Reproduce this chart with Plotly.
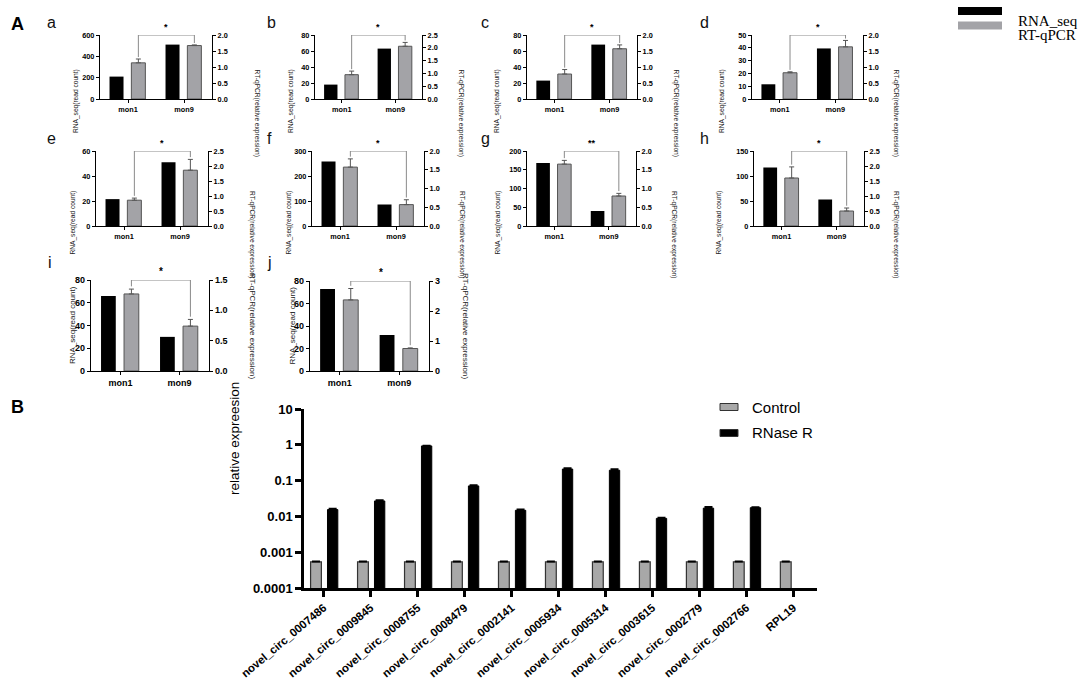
import plotly.graph_objects as go

W, H = 1084, 679
SANS = "Liberation Sans, Arial, sans-serif"
SERIF = "Liberation Serif, Times New Roman, serif"

# ---- A: RNA_seq (left axis) vs RT-qPCR (right axis) ----
months = ["mon1", "mon9"]
panel_letters = ["a", "b", "c", "d", "e", "f", "g", "h", "i", "j"]
rnaseq_mon1 = [210, 18, 23, 11.5, 21.5, 258, 168, 117, 66, 73]
rnaseq_mon9 = [510, 63, 68, 39.5, 51, 86, 40, 53, 30, 32]
qpcr_mon1 = [1.13, 0.95, 0.78, 0.82, 0.86, 1.57, 1.65, 1.60, 1.27, 2.37]
qpcr_mon9 = [1.67, 2.06, 1.57, 1.63, 1.86, 0.57, 0.80, 0.50, 0.74, 0.75]
qpcr_err_mon1 = [0.12, 0.14, 0.14, 0.03, 0.07, 0.22, 0.10, 0.37, 0.08, 0.38]
qpcr_err_mon9 = [0.02, 0.15, 0.12, 0.20, 0.36, 0.13, 0.07, 0.10, 0.11, 0.02]
rnaseq_max = [600, 80, 80, 50, 60, 300, 200, 150, 80, 80]
rnaseq_step = [200, 20, 20, 10, 20, 100, 50, 50, 20, 20]
qpcr_max = [2.0, 2.5, 2.0, 2.0, 2.5, 2.0, 2.0, 2.5, 1.5, 3]
qpcr_step = [0.5, 0.5, 0.5, 0.5, 0.5, 0.5, 0.5, 0.5, 0.5, 1]
signif = ["*", "*", "*", "*", "*", "*", "**", "*", "*", "*"]

# ---- B: RNase R resistance ----
circ_names = ["novel_circ_0007486", "novel_circ_0009845", "novel_circ_0008755",
              "novel_circ_0008479", "novel_circ_0002141", "novel_circ_0005934",
              "novel_circ_0005314", "novel_circ_0003615", "novel_circ_0002779",
              "novel_circ_0002766", "RPL19"]
control_expr = [0.00054, 0.00054, 0.00054, 0.00054, 0.00054, 0.00054,
                0.00054, 0.00054, 0.00054, 0.00054, 0.00054]
control_err = [0.00002, 0.00002, 0.00002, 0.00002, 0.00002, 0.00002,
               0.00002, 0.00002, 0.00002, 0.00002, 0.00002]
rnase_expr = [0.0155, 0.027, 0.93, 0.071, 0.0148, 0.21, 0.195, 0.0088, 0.017, 0.0175, None]
rnase_err = [0.001, 0.0015, 0.03, 0.004, 0.001, 0.015, 0.015, 0.0005, 0.0015, 0.0008, None]

# panel plot areas in pixels: x0, x1, y0(top), y1(bottom)
rects = [(100, 212, 35, 99), (315, 422, 35, 99), (527, 637, 35, 99), (752, 863, 35, 99),
         (96, 208, 151, 226), (312, 424, 151, 226), (527, 636, 151, 226), (754, 864, 151, 226),
         (91, 209, 280, 371), (310, 429, 281, 371)]
letter_pos = [(45, 12), (265, 12), (485, 12), (704, 12), (45, 128), (265, 128),
              (485, 128), (704, 128), (46, 262), (265, 262)]


def key(axis, n):
    return axis if n == 1 else f"{axis}{n}"


def ref(axis, n):
    return axis if n == 1 else f"{axis}{n}"


fig = go.Figure()
layout = dict(width=W, height=H, margin=dict(l=0, r=0, t=0, b=0, autoexpand=False),
              paper_bgcolor="white", plot_bgcolor="white", showlegend=False,
              barmode="overlay", font=dict(family=SANS, color="black"))
annotations = []
shapes = []

pos = list(range(len(months)))
blk_off, gry_off, bw = -0.33, 0.06, 0.25

for k in range(len(panel_letters)):
    n = k + 1
    xn, yl, yr = n, 2 * n - 1, 2 * n
    x0, x1, y0, y1 = rects[k]
    big = k >= 8
    fs = 9 if big else 7.3
    tfs = 8 if big else 6.6
    lw = 1.3

    fig.add_trace(go.Bar(x=pos, y=[rnaseq_mon1[k], rnaseq_mon9[k]], offset=blk_off, width=bw,
                         marker=dict(color="black", line=dict(width=0)),
                         xaxis=ref("x", xn), yaxis=ref("y", yl)))
    fig.add_trace(go.Bar(x=pos, y=[qpcr_mon1[k], qpcr_mon9[k]], offset=gry_off, width=bw,
                         marker=dict(color="#a3a3a7", line=dict(color="#555555", width=1)),
                         error_y=dict(type="data", symmetric=False,
                                      array=[qpcr_err_mon1[k], qpcr_err_mon9[k]],
                                      arrayminus=[0, 0], color="#555555", thickness=1, width=2.5),
                         xaxis=ref("x", xn), yaxis=ref("y", yr)))

    # significance bracket
    top = qpcr_max[k]
    pad = 0.03 * top
    p1 = pos[0] + gry_off + bw / 2
    p9 = pos[1] + gry_off + bw / 2
    fig.add_trace(go.Scatter(x=[p1, p1, p9, p9],
                             y=[qpcr_mon1[k] + qpcr_err_mon1[k] + pad, top, top,
                                qpcr_mon9[k] + qpcr_err_mon9[k] + pad],
                             mode="lines", line=dict(color="#8a8a8a", width=1),
                             cliponaxis=False, hoverinfo="skip",
                             xaxis=ref("x", xn), yaxis=ref("y", yr)))
    annotations.append(dict(x=(p1 + p9) / 2, y=top, xref=ref("x", xn), yref=ref("y", yr),
                            text=signif[k], showarrow=False, yanchor="bottom", yshift=1,
                            font=dict(size=10 if big else 9, weight="bold")))

    axis_common = dict(showline=True, linecolor="black", linewidth=lw, ticks="outside",
                       ticklen=3, tickwidth=lw, tickcolor="black", showgrid=False,
                       zeroline=False, automargin=False,
                       tickfont=dict(size=fs, weight="bold"))
    layout[key("xaxis", xn)] = dict(domain=[x0 / W, x1 / W], anchor=ref("y", yl),
                                    range=[-0.5, 1.5], tickvals=pos, ticktext=months,
                                    **axis_common)
    layout[key("yaxis", yl)] = dict(domain=[1 - y1 / H, 1 - y0 / H], anchor=ref("x", xn),
                                    range=[0, rnaseq_max[k]], tick0=0, dtick=rnaseq_step[k],
                                    **axis_common)
    layout[key("yaxis", yr)] = dict(overlaying=ref("y", yl), anchor=ref("x", xn), side="right",
                                    range=[0, qpcr_max[k]], tick0=0, dtick=qpcr_step[k],
                                    tickformat="d" if qpcr_step[k] >= 1 else ".1f",
                                    **axis_common)

    yc = 1 - (y0 + y1) / 2 / H
    annotations.append(dict(x=(x0 - (25 if big else 30)) / W, y=yc, xref="paper", yref="paper",
                            text="RNA_seq(read count)", textangle=-90, showarrow=False,
                            font=dict(size=tfs, color="#222")))
    annotations.append(dict(x=(x1 + (37 if big else 38)) / W, y=yc, xref="paper", yref="paper",
                            text="RT-qPCR(relative expression)", textangle=90, showarrow=False,
                            font=dict(size=tfs, color="#222")))
    lx, ly = letter_pos[k]
    annotations.append(dict(x=lx / W, y=1 - ly / H, xref="paper", yref="paper",
                            text=panel_letters[k], showarrow=False,
                            font=dict(size=16, color="#111")))

# ---- panel B ----
nb = len(panel_letters) + 1
xb, yb = nb, 2 * nb - 1
bpos = list(range(len(circ_names)))
fig.add_trace(go.Bar(x=bpos, y=control_expr, offset=-0.28, width=0.23,
                     marker=dict(color="#a8a8a8", line=dict(color="#333333", width=1.2)),
                     error_y=dict(type="data", symmetric=False, array=control_err,
                                  arrayminus=[0] * len(control_err), color="black",
                                  thickness=1.5, width=4),
                     xaxis=ref("x", xb), yaxis=ref("y", yb)))
fig.add_trace(go.Bar(x=bpos, y=rnase_expr, offset=0.08, width=0.22,
                     marker=dict(color="black", line=dict(color="black", width=1)),
                     error_y=dict(type="data", symmetric=False, array=rnase_err,
                                  arrayminus=[0] * len(rnase_err), color="black",
                                  thickness=1.5, width=4),
                     xaxis=ref("x", xb), yaxis=ref("y", yb)))

b_common = dict(showline=True, linecolor="black", linewidth=2.5, ticks="outside",
                ticklen=6, tickwidth=2.5, tickcolor="black", showgrid=False, zeroline=False,
                automargin=False)
layout[key("xaxis", xb)] = dict(domain=[304 / W, 817 / W], anchor=ref("y", yb),
                                range=[-0.42, 10.5], tickvals=bpos, ticktext=circ_names,
                                tickangle=-40, tickfont=dict(size=11.4, weight="bold"),
                                **b_common)
layout[key("yaxis", yb)] = dict(domain=[1 - 588 / H, 1 - 409 / H], anchor=ref("x", xb),
                                type="log", range=[-4, 1],
                                tickvals=[0.0001, 0.001, 0.01, 0.1, 1, 10],
                                ticktext=["0.0001", "0.001", "0.01", "0.1", "1", "10"],
                                tickfont=dict(size=13, weight="bold"), **b_common)
annotations.append(dict(x=225 / W, y=1 - 497 / H, xref="paper", yref="paper",
                        text="relative expreesion", textangle=-90, showarrow=False,
                        font=dict(size=13.5)))

# legend B
for txt, col, yy in [("Control", "#a8a8a8", 407), ("RNase R", "black", 433)]:
    shapes.append(dict(type="rect", xref="paper", yref="paper",
                       x0=720 / W, x1=738 / W, y0=1 - (yy + 3.5) / H, y1=1 - (yy - 3.5) / H,
                       fillcolor=col, line=dict(color="#333333", width=1)))
    annotations.append(dict(x=750 / W, y=1 - yy / H, xref="paper", yref="paper", text=txt,
                            showarrow=False, xanchor="left", font=dict(size=15)))

# legend A
for txt, col, yy in [("RNA_seq", "black", 11), ("RT-qPCR", "#a3a3a7", 25.5)]:
    shapes.append(dict(type="rect", xref="paper", yref="paper",
                       x0=958 / W, x1=1002 / W, y0=1 - (yy + 4) / H, y1=1 - (yy - 4) / H,
                       fillcolor=col, line=dict(width=0)))
    annotations.append(dict(x=1016 / W, y=1 - yy / H, xref="paper", yref="paper", text=txt,
                            showarrow=False, xanchor="left",
                            font=dict(size=15, family=SERIF)))

# big panel labels
for txt, yy in [("A", 12), ("B", 407)]:
    annotations.append(dict(x=9 / W, y=1 - yy / H, xref="paper", yref="paper", text=txt,
                            showarrow=False, font=dict(size=18, weight="bold")))

layout["annotations"] = annotations
layout["shapes"] = shapes
fig.update_layout(**layout)
fig.write_html("out.html", config={"displayModeBar": False},
               post_script="document.body.style.margin='0px';")
